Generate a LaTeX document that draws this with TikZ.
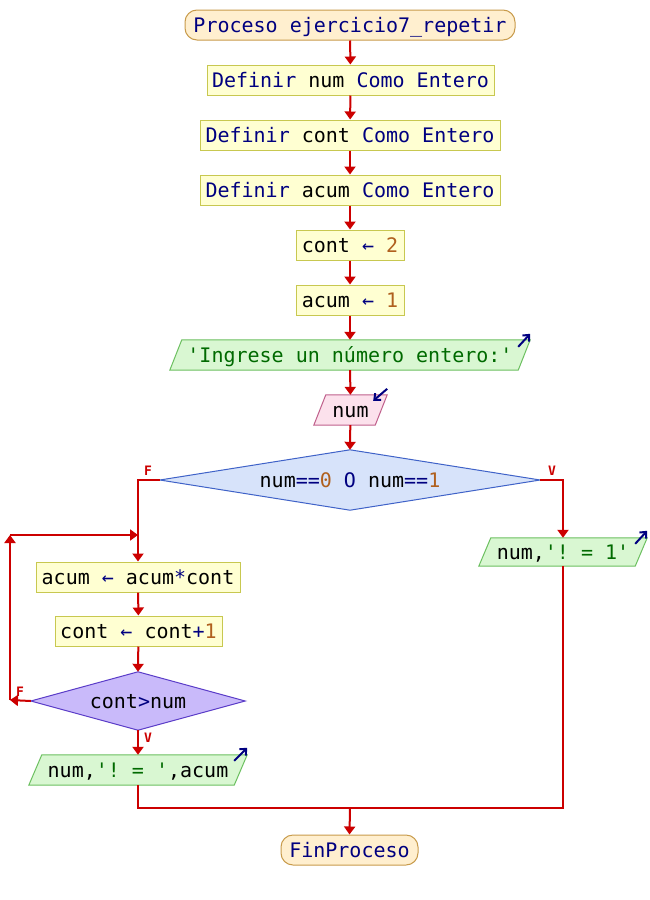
\documentclass[tikz,border=0pt]{standalone}
\usepackage{fontspec}
\setmonofont{DejaVu Sans Mono}
\usetikzlibrary{arrows.meta,calc,backgrounds}
\definecolor{kw}{HTML}{000080}
\definecolor{numc}{HTML}{B0601E}
\definecolor{strc}{HTML}{006A00}
\definecolor{flow}{HTML}{CC0000}
\definecolor{procfill}{HTML}{FFFFD2}
\definecolor{procdraw}{HTML}{C8C850}
\definecolor{termfill}{HTML}{FFEFCF}
\definecolor{termdraw}{HTML}{C89B4B}
\definecolor{outfill}{HTML}{D9F7D2}
\definecolor{outdraw}{HTML}{6CC060}
\definecolor{infill}{HTML}{FCE1EC}
\definecolor{indraw}{HTML}{C0608C}
\definecolor{d1fill}{HTML}{D7E3FA}
\definecolor{d1draw}{HTML}{3F62C8}
\definecolor{d2fill}{HTML}{C9BAFA}
\definecolor{d2draw}{HTML}{5A3CC8}
\newcommand\K[1]{\textcolor{kw}{#1}}
\newcommand\N[1]{\textcolor{numc}{#1}}
\newcommand\St[1]{\textcolor{strc}{#1}}
\newcommand\Ar{\textcolor{kw}{←}}
\tikzset{
  txt/.style={font=\ttfamily\fontsize{20}{24}\selectfont, inner sep=0pt, minimum height=30pt, text height=16pt, text depth=2pt},
  procbox/.style={txt, draw=procdraw, fill=procfill, line width=1pt},
  termbox/.style={txt, draw=termdraw, fill=termfill, line width=1pt, rounded corners=12pt},
  plain/.style={txt},
  outshape/.style={draw=outdraw, fill=outfill, line width=1pt},
  inshape/.style={draw=indraw, fill=infill, line width=1pt},
  flowline/.style={draw=flow, line width=2pt},
  arr/.style={flowline, -{Triangle[length=8pt,width=11pt]}},
  icon/.style={draw=kw, line width=2pt, -{Straight Barb[length=5pt,width=9pt]}},
  lbl/.style={text=flow, font=\ttfamily\bfseries\fontsize{13}{15}\selectfont, inner sep=0pt}
}
\newcommand\para[3]{%
  \draw[#2] ($(#1.south west)+(-#3,0)$) -- ($(#1.north west)+(#3,0)$) -- ($(#1.north east)+(#3,0)$) -- ($(#1.south east)+(-#3,0)$) -- cycle;}
\begin{document}
\begin{tikzpicture}[x=1pt,y=-1pt]
\useasboundingbox (0,0) rectangle (650,900);

% nodes
\node[termbox, minimum width=330pt] (start) at (350,25) {\K{Proceso ejercicio7\_repetir}};
\node[procbox, minimum width=287pt] (def1) at (350.5,80) {\K{Definir} num \K{Como Entero}};
\node[procbox, minimum width=300pt] (def2) at (350,135) {\K{Definir} cont \K{Como Entero}};
\node[procbox, minimum width=300pt] (def3) at (350,190) {\K{Definir} acum \K{Como Entero}};
\node[procbox, minimum width=108pt] (c2) at (350,245) {cont \Ar{} \N{2}};
\node[procbox, minimum width=108pt] (a1v) at (350,300) {acum \Ar{} \N{1}};
\node[plain, minimum width=348pt] (o1) at (350,355) {\St{'Ingrese un número entero:'}};
\node[plain, minimum width=61pt] (in1) at (350.5,410) {num};
\node[plain, minimum width=380pt, minimum height=60pt] (d1) at (350,480) {num\K{==}\N{0} \K{O} num\K{==}\N{1}};
\node[procbox, minimum width=204pt] (a1) at (138,577) {acum \Ar{} acum\K{*}cont};
\node[procbox, minimum width=167pt] (a2) at (138.5,631) {cont \Ar{} cont\K{+}\N{1}};
\node[plain, minimum width=214pt, minimum height=58pt] (d2) at (138,701) {cont\K{>}num};
\node[plain, minimum width=205pt] (o3) at (138,770) {num,\St{'! = '},acum};
\node[plain, minimum width=156pt, minimum height=28pt] (o2) at (563,552) {num,\St{'! = 1'}};
\node[termbox, minimum width=137pt] (fin) at (349.5,850) {\K{FinProceso}};

\coordinate (lc) at (138,480);
\coordinate (rc) at (563,480);
\coordinate (jl) at (138,535);
\coordinate (lb) at (10,700);
\coordinate (lt) at (10,535);
\coordinate (mb) at (138,808);
\coordinate (rb) at (563,808);
\coordinate (mj) at (350,808);

\begin{scope}[on background layer]
  \fill[white] (0,0) rectangle (650,900);
  \para{o1}{outshape}{6}
  \para{in1}{inshape}{6}
  \para{o3}{outshape}{6.5}
  \para{o2}{outshape}{6}
  \draw[draw=d1draw, fill=d1fill, line width=1pt] (d1.west) -- (d1.north) -- (d1.east) -- (d1.south) -- cycle;
  \draw[draw=d2draw, fill=d2fill, line width=1pt] (d2.west) -- (d2.north) -- (d2.east) -- (d2.south) -- cycle;
\end{scope}

% icons
\draw[icon] ($(o1.north east)+(-6,7)$) -- ($(o1.north east)+(6,-6)$);
\draw[icon] ($(o2.north east)+(-6,6)$) -- ($(o2.north east)+(6,-7)$);
\draw[icon] ($(o3.north east)+(-6.5,6)$) -- ($(o3.north east)+(6.5,-7)$);
\draw[icon] ($(in1.north east)+(6,-6)$) -- ($(in1.north east)+(-8,6)$);

% main flow
\draw[arr] (start) -- (def1);
\draw[arr] (def1) -- (def2);
\draw[arr] (def2) -- (def3);
\draw[arr] (def3) -- (c2);
\draw[arr] (c2) -- (a1v);
\draw[arr] (a1v) -- (o1);
\draw[arr] (o1) -- (in1);
\draw[arr] (in1) -- (d1.north);

% F branch
\draw[arr] (d1.west) -- (lc) -- (a1.north);
\node[lbl, anchor=south] (f1) at (148,476) {F};
% V branch
\draw[arr] (d1.east) -- (rc) -- (o2.north);
\node[lbl, anchor=south] (v1) at (552,476) {V};

% loop
\draw[arr] (a1) -- (a2);
\draw[arr] (a2) -- (d2.north);
\draw[arr] (d2.west) -- (lb);
\draw[arr] (lb) -- (lt);
\draw[arr] (lt) -- (jl);
\node[lbl, anchor=south] (f2) at (20,697) {F};
\draw[arr] (d2.south) -- (o3.north);
\node[lbl, anchor=north] (v2) at (148,733) {V};

% join
\draw[flowline] (o3.south) -- (mb) -- (rb) -- (o2.south);
\draw[arr] (mj) -- (fin.north);
\end{tikzpicture}
\end{document}
